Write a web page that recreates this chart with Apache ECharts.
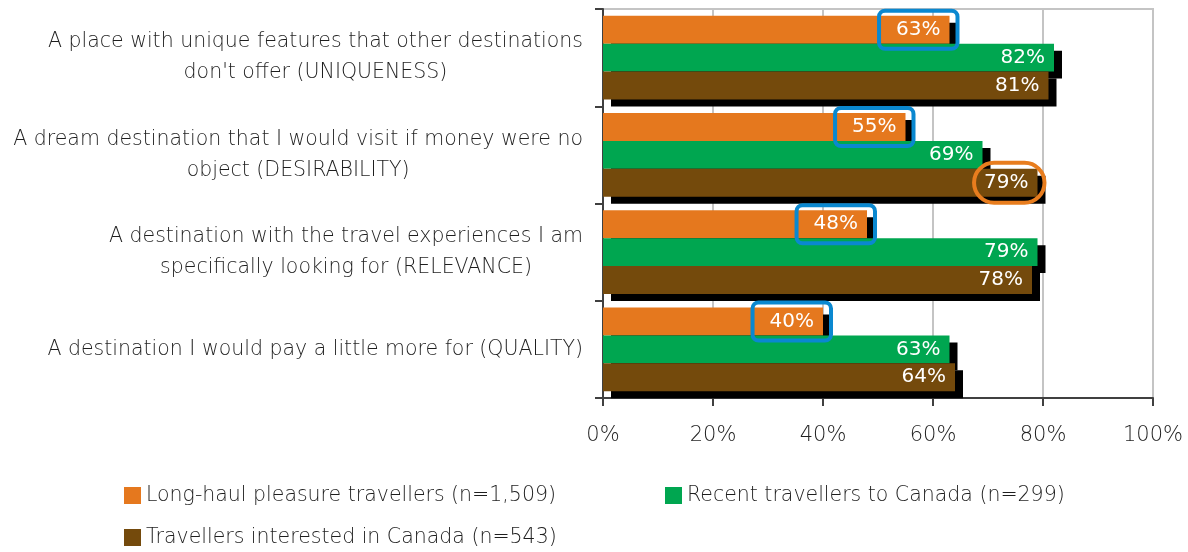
<!DOCTYPE html>
<html>
<head>
<meta charset="utf-8">
<script src="https://cdn.jsdelivr.net/npm/echarts@6/dist/echarts.min.js"></script>
<style>
  html, body { margin: 0; padding: 0; background: #fff; }
  #chart { width: 1188px; height: 552px; }
</style>
</head>
<body>
<div id="chart"></div>
<script>
// categories, top to bottom
const categories = [
  "A place with unique features that other destinations\ndon't offer (UNIQUENESS)",
  "A dream destination that I would visit if money were no\nobject (DESIRABILITY)",
  "A destination with the travel experiences I am\nspecifically looking for (RELEVANCE)",
  "A destination I would pay a little more for (QUALITY)"
];
const seriesNames = [
  "Long-haul pleasure travellers (n=1,509)",
  "Recent travellers to Canada (n=299)",
  "Travellers interested in Canada (n=543)"
];
const longHaul = [63, 55, 48, 40];
const recent = [82, 69, 79, 63];
const interested = [81, 79, 78, 64];
const xTicks = [0, 20, 40, 60, 80, 100];

const font = '"DejaVu Sans", Verdana, sans-serif';
const textColor = "#1e1e1e";
const lineColor = "#404040";
const colors = ["#e5781e", "#00a650", "#744a0c"];

const chart = echarts.init(document.getElementById("chart"));

const barShadow = {
  shadowColor: "#000",
  shadowBlur: 0,
  shadowOffsetX: 8,
  shadowOffsetY: 7
};

const plainLabel = {
  show: true,
  position: "insideRight",
  distance: 9,
  color: "#fff",
  fontSize: 20,
  fontFamily: font,
  formatter: "{c}%"
};

// the brown bar of DESIRABILITY is circled in the original
const interestedData = interested.map((v, i) => {
  if (i !== 1) return v;
  return {
    value: v,
    label: {
      borderColor: "#e87d1e",
      borderWidth: 4,
      borderRadius: 24,
      padding: [10, 16, 10, 10],
      offset: [16, 0]
    }
  };
});

const legendBase = {
  icon: "rect",
  itemWidth: 17,
  itemHeight: 17,
  itemGap: 0,
  padding: 0,
  textStyle: { fontSize: 20.5, fontWeight: 300, color: textColor, fontFamily: font }
};

chart.setOption({
  animation: false,
  textStyle: { fontFamily: font },
  color: colors,
  grid: {
    left: 603,
    right: 35,
    top: 9,
    bottom: 154,
    show: true,
    borderColor: "#c4c4c4",
    borderWidth: 2
  },
  legend: [
    Object.assign({ left: 124, top: 485, data: [seriesNames[0]] }, legendBase),
    Object.assign({ left: 665, top: 485, data: [seriesNames[1]] }, legendBase),
    Object.assign({ left: 124, top: 527, data: [seriesNames[2]] }, legendBase)
  ],
  xAxis: {
    type: "value",
    min: xTicks[0],
    max: xTicks[xTicks.length - 1],
    interval: xTicks[1] - xTicks[0],
    axisLine: { show: true, lineStyle: { color: lineColor, width: 2 } },
    axisTick: { show: true, length: 8, lineStyle: { color: lineColor, width: 2 } },
    splitLine: { show: true, lineStyle: { color: "#c4c4c4", width: 2 } },
    axisLabel: {
      formatter: "{value}%",
      fontSize: 21,
      fontWeight: 300,
      color: textColor,
      fontFamily: font,
      margin: 27
    }
  },
  yAxis: {
    type: "category",
    inverse: true,
    data: categories,
    axisLine: { show: true, lineStyle: { color: lineColor, width: 2 } },
    axisTick: { show: true, length: 8, lineStyle: { color: lineColor, width: 2 } },
    axisLabel: {
      margin: 20,
      align: "right",
      formatter: (value) =>
        value.split("\n").map((line) => "{c|" + line + "}").join("\n"),
      rich: {
        c: {
          align: "center",
          fontSize: 20.5,
          fontWeight: 300,
          lineHeight: 31,
          color: textColor,
          fontFamily: font
        }
      }
    }
  },
  series: [
    {
      name: seriesNames[0],
      type: "bar",
      data: longHaul,
      barGap: "0%",
      barCategoryGap: "14%",
      itemStyle: Object.assign({ color: colors[0] }, barShadow),
      label: {
        show: true,
        position: "insideRight",
        distance: 0,
        offset: [8, 0],
        color: "#fff",
        fontSize: 20,
        fontFamily: font,
        formatter: "{c}%",
        padding: [9, 17, 9, 17],
        borderColor: "#0a88d0",
        borderWidth: 4,
        borderRadius: 6
      }
    },
    {
      name: seriesNames[1],
      type: "bar",
      data: recent,
      itemStyle: Object.assign({ color: colors[1] }, barShadow),
      label: plainLabel
    },
    {
      name: seriesNames[2],
      type: "bar",
      data: interestedData,
      itemStyle: Object.assign({ color: colors[2] }, barShadow),
      label: plainLabel
    }
  ]
});
</script>
</body>
</html>
